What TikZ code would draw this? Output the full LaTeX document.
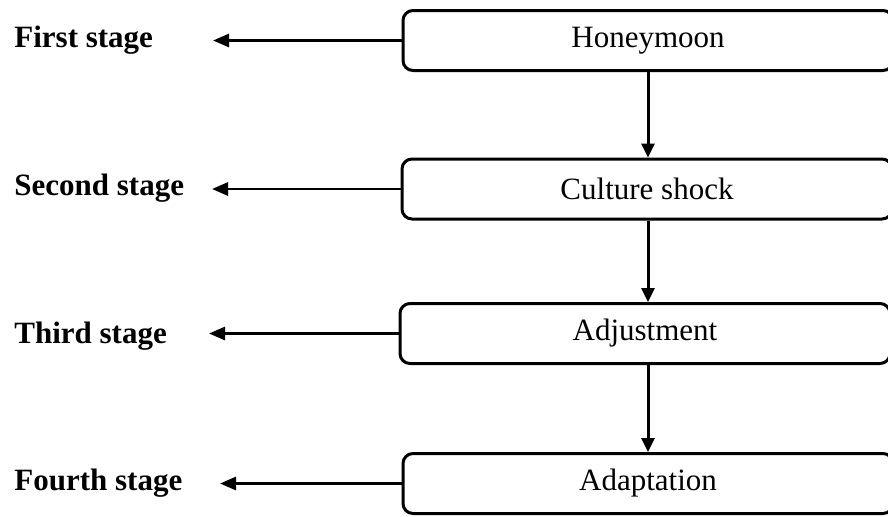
\documentclass[tikz,border=0pt]{standalone}
\usepackage{fontspec}
\setmainfont{Liberation Serif}
\usetikzlibrary{arrows.meta, positioning}
\tikzset{
    stagebox/.style={draw=black, line width=1.5pt, rounded corners=5pt, fill=white,
                     minimum width=245pt, minimum height=30pt, inner sep=0pt,
                     font=\fontsize{15.5}{18}\selectfont},
    stagelbl/.style={anchor=west, inner sep=0pt, font=\fontsize{15.5}{18}\selectfont\bfseries},
    arr/.style={-{Triangle[length=8pt, width=6.5pt]}, line width=1.4pt, black},
    downarr/.style={-{Triangle[length=7pt, width=6.5pt]}, line width=1.5pt, black}
}

\begin{document}
\begin{tikzpicture}[x=0.5pt, y=-0.5pt]
        \useasboundingbox (0,0) rectangle (888,516);
        \clip (0,0) rectangle (888,516);
        % stage boxes
        \node[stagebox] (honey) at (648,40.5) {Honeymoon};
        \node[stagebox] (shock) at (647,189) {Culture shock};
        \node[stagebox] (adjust) at (645,333.5) {Adjustment};
        \node[stagebox] (adapt) at (648,483.5) {Adaptation};
        % stage labels
        \node[stagelbl] (first) at (14,40) {First stage};
        \node[stagelbl] (second) at (14,188) {Second stage};
        \node[stagelbl] (third) at (14,336) {Third stage};
        \node[stagelbl] (fourth) at (14,483) {Fourth stage};
        % arrow tips on the left
        \coordinate (tipA) at (213,0);
        \coordinate (tipB) at (212,0);
        \coordinate (tipC) at (209,0);
        \coordinate (tipD) at (220,0);
        \draw[arr] (honey.west) -- (honey.west -| tipA);
        \draw[arr] (shock.west) -- (shock.west -| tipB);
        \draw[arr] (adjust.west) -- (adjust.west -| tipC);
        \draw[arr] (adapt.west) -- (adapt.west -| tipD);
        \draw[downarr] (honey.south) -- (honey.south |- shock.north);
        \draw[downarr] (honey.south |- shock.south) -- (honey.south |- adjust.north);
        \draw[downarr] (honey.south |- adjust.south) -- (honey.south |- adapt.north);
    \end{tikzpicture}
\end{document}
